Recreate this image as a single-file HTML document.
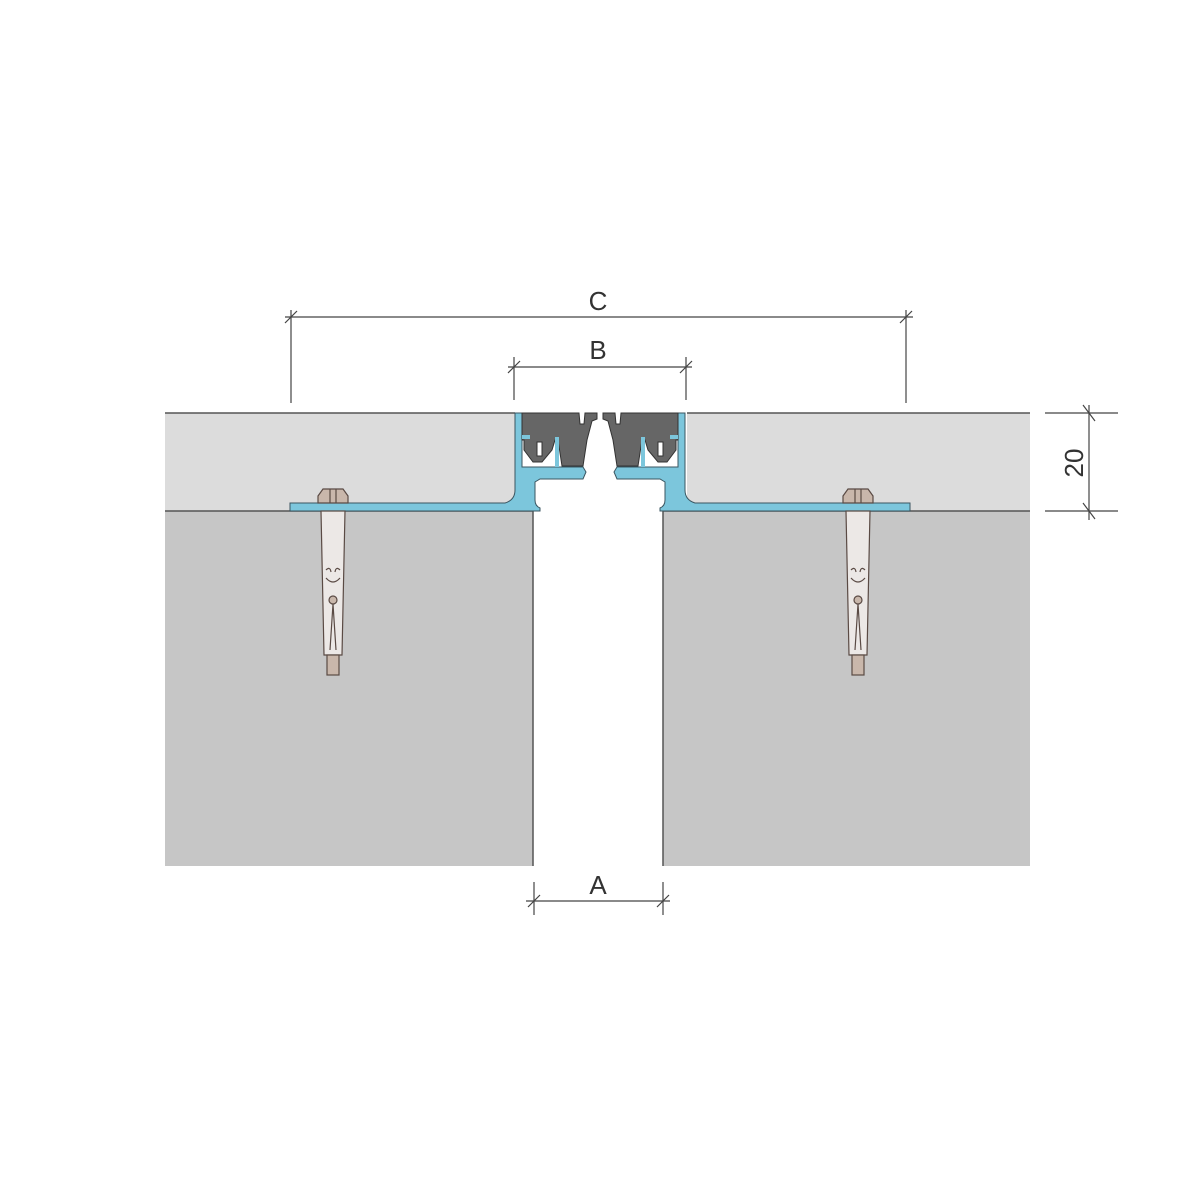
<!DOCTYPE html>
<html><head><style>html,body{margin:0;padding:0;background:#fff}svg{display:block}</style></head>
<body>
<svg width="1200" height="1200" viewBox="0 0 1200 1200" xmlns="http://www.w3.org/2000/svg" font-family="Liberation Sans, sans-serif">
<rect x="165" y="413" width="350" height="98" fill="#dcdcdc"/>
<rect x="687" y="413" width="343" height="98" fill="#dcdcdc"/>
<line x1="165" y1="413" x2="515" y2="413" stroke="#555" stroke-width="1.5"/>
<line x1="687" y1="413" x2="1030" y2="413" stroke="#555" stroke-width="1.5"/>
<rect x="165" y="511" width="368" height="355" fill="#c6c6c6"/>
<rect x="663" y="511" width="367" height="355" fill="#c6c6c6"/>
<line x1="165" y1="511" x2="533" y2="511" stroke="#555" stroke-width="1.5"/>
<line x1="663" y1="511" x2="1030" y2="511" stroke="#555" stroke-width="1.5"/>
<line x1="533" y1="511" x2="533" y2="866" stroke="#555" stroke-width="1.5"/>
<line x1="663" y1="511" x2="663" y2="866" stroke="#555" stroke-width="1.5"/>

<g id="half" stroke="#3a5560" stroke-width="1">
  <path d="M290 503 L505 503 Q515 500 515 490 L515 413 L522 413 L522 467 L583 467 L586 472 L583 479 L540 479 L535 482 L535 500 Q535 506 540 508 L540 511 L290 511 Z" fill="#7cc6dc"/>
  <path d="M522 413 L579 413 L580 424 L584 424 L585 413 L597 413 L597 419 L592 421 L587 440 L583 466 L562 466 L558 440 L555 440 L552 450 L542 462 L533 462 L524 450 L524 440 L522 440 Z" fill="#666" stroke="#333"/>
  <rect x="537" y="442" width="5" height="14" fill="#fff" stroke="#333"/>
  <path d="M522 437 L530 437 M557 437 L557 467" fill="none" stroke="#7cc6dc" stroke-width="4"/>
</g>
<use href="#half" transform="translate(1200,0) scale(-1,1)"/>

<g id="anchor" stroke="#5a4a44" stroke-width="1.2">
  <path d="M321 511 L345 511 L342 655 L324 655 Z" fill="#ece8e6"/>
  <rect x="327" y="655" width="12" height="20" fill="#c9b7ab"/>
  <path d="M318 496 L323 489 L343 489 L348 496 L348 503 L318 503 Z" fill="#c9b7ab"/>
  <line x1="330" y1="489" x2="330" y2="503"/><line x1="336" y1="489" x2="336" y2="503"/>
  <path d="M326 578 Q333 586 340 578" fill="none"/>
  <path d="M326 570 Q330 566 331 572 M340 570 Q336 566 335 572" fill="none"/>
  <circle cx="333" cy="600" r="4" fill="#c9b7ab"/>
  <path d="M333 604 L330 650 M333 604 L336 650" fill="none"/>
</g>
<use href="#anchor" transform="translate(525,0)"/>

<g stroke="#444" stroke-width="1.2" fill="none">
  <line x1="285" y1="317" x2="913" y2="317"/>
  <line x1="291" y1="310" x2="291" y2="403"/>
  <line x1="906" y1="310" x2="906" y2="403"/>
  <line x1="285" y1="323" x2="297" y2="311"/><line x1="900" y1="323" x2="912" y2="311"/>
  <line x1="508" y1="367" x2="692" y2="367"/>
  <line x1="514" y1="357" x2="514" y2="400"/>
  <line x1="686" y1="357" x2="686" y2="400"/>
  <line x1="508" y1="373" x2="520" y2="361"/><line x1="680" y1="373" x2="692" y2="361"/>
  <line x1="526" y1="901" x2="670" y2="901"/>
  <line x1="534" y1="882" x2="534" y2="915"/>
  <line x1="663" y1="882" x2="663" y2="915"/>
  <line x1="528" y1="907" x2="540" y2="895"/><line x1="657" y1="907" x2="669" y2="895"/>
  <line x1="1045" y1="413" x2="1118" y2="413"/>
  <line x1="1045" y1="511" x2="1118" y2="511"/>
  <line x1="1089" y1="405" x2="1089" y2="520"/>
  <line x1="1083" y1="405" x2="1095" y2="421"/><line x1="1083" y1="503" x2="1095" y2="519"/>
</g>
<g fill="#333" font-size="26">
  <text x="598" y="310" text-anchor="middle">C</text>
  <text x="598" y="359" text-anchor="middle">B</text>
  <text x="598" y="894" text-anchor="middle">A</text>
  <text x="0" y="0" transform="translate(1083,463) rotate(-90)" text-anchor="middle">20</text>
</g>
</svg>
</body></html>
